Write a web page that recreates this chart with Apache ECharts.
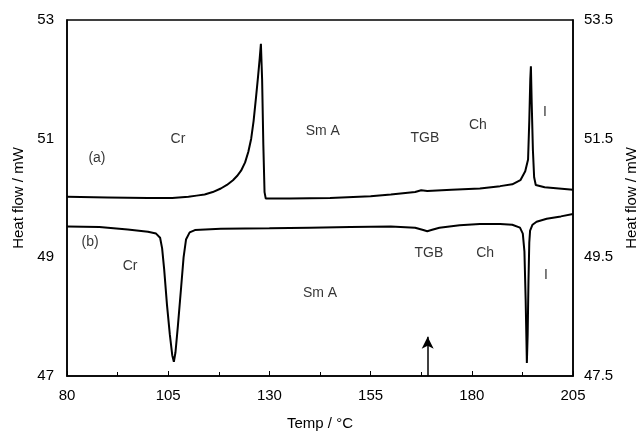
<!DOCTYPE html>
<html><head><meta charset="utf-8">
<script src="https://cdn.jsdelivr.net/npm/echarts@6/dist/echarts.min.js"></script>
<style>html,body{margin:0;padding:0;background:#fff}#c{width:640px;height:434px}</style>
</head><body><div id="c"></div>
<script>
// Curve (a): heating
var tempA = [80, 90, 100, 106, 110, 112, 114, 116, 118, 119.5, 121, 122, 123, 124, 124.8, 125.5, 126.1, 126.7, 127.2, 127.6, 127.9, 128.2, 128.5, 128.8, 129.1, 135, 145, 155, 160, 166, 167.5, 169, 175, 182, 187, 190, 192, 193.2, 193.9, 194.2, 194.45, 194.6, 194.8, 195.1, 195.4, 195.8, 198, 205];
var heatA = [50.02, 50.01, 50.0, 50.0, 50.02, 50.04, 50.06, 50.1, 50.16, 50.22, 50.3, 50.37, 50.46, 50.6, 50.78, 51.0, 51.3, 51.7, 52.05, 52.35, 52.6, 52.0, 50.9, 50.1, 49.99, 49.99, 50.0, 50.03, 50.06, 50.1, 50.13, 50.12, 50.14, 50.16, 50.2, 50.23, 50.3, 50.45, 50.65, 51.3, 52.0, 52.22, 51.6, 50.8, 50.35, 50.22, 50.18, 50.14];
// Curve (b): cooling
var tempB = [80, 88, 95, 100, 102, 103, 103.5, 104, 104.7, 105.4, 106, 106.4, 106.8, 107.4, 108.2, 108.8, 109.4, 110.3, 111.6, 118, 130, 140, 150, 160, 166, 168, 169, 170, 172, 177, 182, 187, 190, 191.9, 192.6, 193, 193.3, 193.5, 193.6, 193.8, 194.0, 194.2, 194.4, 195, 196, 198.5, 202, 205];
var heatB = [49.52, 49.51, 49.47, 49.43, 49.4, 49.33, 49.15, 48.8, 48.2, 47.7, 47.35, 47.24, 47.4, 47.85, 48.5, 49.0, 49.3, 49.42, 49.46, 49.48, 49.49, 49.5, 49.51, 49.52, 49.5, 49.46, 49.44, 49.46, 49.5, 49.54, 49.56, 49.56, 49.55, 49.5, 49.4, 49.1, 48.3, 47.6, 47.22, 47.7, 48.6, 49.25, 49.45, 49.55, 49.6, 49.65, 49.69, 49.73];
// Phase labels
var labelText = ['(a)', 'Cr', 'Sm A', 'TGB', 'Ch', 'I', '(b)', 'Cr', 'Sm A', 'TGB', 'Ch', 'I'];
var labelTemp = [87.4, 107.4, 143.2, 168.4, 181.5, 198.1, 85.7, 95.6, 142.5, 169.4, 183.3, 198.3];
var labelHeat = [50.67, 50.99, 51.13, 51.01, 51.23, 51.45, 49.26, 48.85, 48.40, 49.07, 49.07, 48.70];
// Arrow marker
var arrowTemp = 169.1;
var arrowFrom = 47.0;
var arrowTo = 47.66;
// Axis ranges / ticks
var xMin = 80, xMax = 205, xStep = 25;
var yLeftMin = 47, yLeftMax = 53, yStep = 2;
var yRightMin = 47.5, yRightMax = 53.5;

function zip(a, b) { return a.map(function (v, i) { return [v, b[i]]; }); }
var labelData = labelTemp.map(function (t, i) { return [t, labelHeat[i], labelText[i]]; });

var FONT = 'Liberation Sans, Arial, sans-serif';
var chart = echarts.init(document.getElementById('c'));
chart.setOption({
  animation: false,
  backgroundColor: '#fff',
  grid: { left: 67, right: 67, top: 20, bottom: 58, outerBoundsMode: 'none', containLabel: false, show: true, borderColor: '#000', borderWidth: 1.5, backgroundColor: 'transparent' },
  xAxis: {
    type: 'value', min: xMin, max: xMax, interval: xStep,
    name: 'Temp / °C', nameLocation: 'middle', nameGap: 40,
    nameTextStyle: { color: '#000', fontSize: 15, fontFamily: FONT },
    axisLine: { show: true, lineStyle: { color: '#000', width: 1.5 } },
    axisTick: { show: true, inside: true, length: 5, lineStyle: { color: '#000' } },
    minorTick: { show: true, splitNumber: 2, length: 4, lineStyle: { color: '#000' } },
    axisLabel: { color: '#000', fontSize: 15, fontFamily: FONT, margin: 12 },
    splitLine: { show: false }
  },
  yAxis: [{
    type: 'value', min: yLeftMin, max: yLeftMax, interval: yStep, position: 'left',
    name: 'Heat flow / mW', nameLocation: 'middle', nameGap: 37, nameRotate: 90,
    nameTextStyle: { color: '#000', fontSize: 15, fontFamily: FONT },
    axisLine: { show: true, lineStyle: { color: '#000', width: 1.5 } },
    axisTick: { show: false },
    axisLabel: { color: '#000', fontSize: 15, fontFamily: FONT, margin: 13 },
    splitLine: { show: false }
  }, {
    type: 'value', min: yRightMin, max: yRightMax, interval: yStep, position: 'right',
    name: 'Heat flow / mW', nameLocation: 'middle', nameGap: 47, nameRotate: 90,
    nameTextStyle: { color: '#000', fontSize: 15, fontFamily: FONT },
    axisLine: { show: true, lineStyle: { color: '#000', width: 1.5 } },
    axisTick: { show: false },
    axisLabel: { color: '#000', fontSize: 15, fontFamily: FONT, margin: 11 },
    splitLine: { show: false }
  }],
  series: [{
    name: '(a)', type: 'line', data: zip(tempA, heatA), showSymbol: false, symbol: 'none',
    lineStyle: { color: '#000', width: 2 }, silent: true
  }, {
    name: '(b)', type: 'line', data: zip(tempB, heatB), showSymbol: false, symbol: 'none',
    lineStyle: { color: '#000', width: 2 }, silent: true,
    markLine: {
      silent: true, symbol: ['none', 'arrow'], symbolSize: [9, 12], label: { show: false },
      lineStyle: { color: '#000', width: 1.5, type: 'solid' },
      data: [[{ coord: [arrowTemp, arrowFrom] }, { coord: [arrowTemp, arrowTo] }]]
    }
  }, {
    name: 'labels', type: 'scatter', data: labelData, symbolSize: 0, silent: true,
    label: {
      show: true, position: 'inside', color: '#000', fontSize: 14, fontFamily: FONT,
      formatter: function (p) { return p.data[2]; }
    }
  }]
});
</script>
</body></html>
